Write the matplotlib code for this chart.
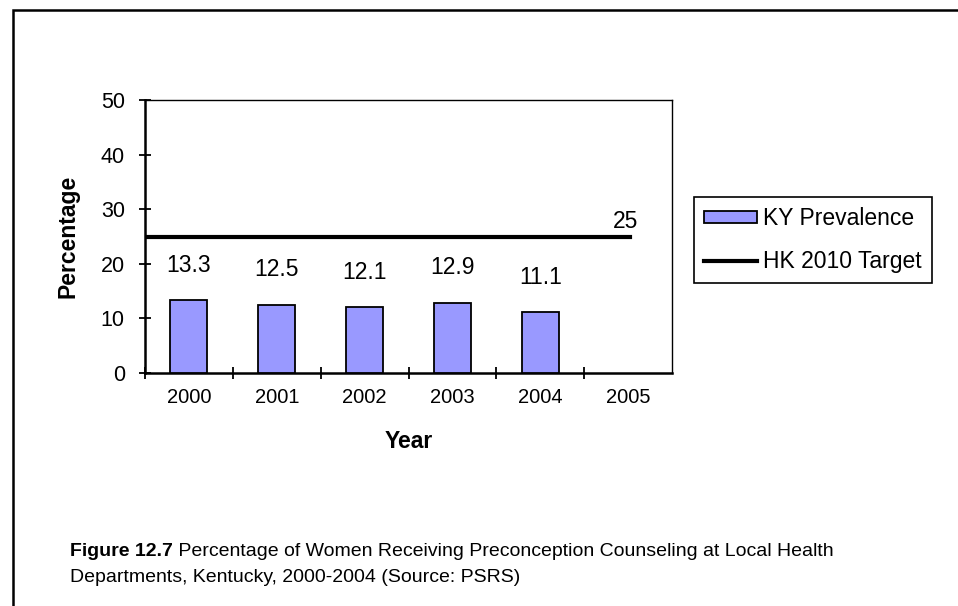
import numpy as np
import matplotlib.pyplot as plt
import matplotlib.patches as mpatches

plt.rcParams['font.family'] = ['Liberation Sans', 'DejaVu Sans']

years = ['2000', '2001', '2002', '2003', '2004', '2005']
prevalence = [13.3, 12.5, 12.1, 12.9, 11.1]
target = [25, 25, 25, 25, 25, 25]

fig = plt.figure(figsize=(9.58, 6.06), dpi=100)
ax = fig.add_axes([145 / 958, 1 - 373 / 606, 527 / 958, 273 / 606])

x = np.arange(len(prevalence))
bars = ax.bar(x, prevalence, width=0.42, color='#9999FF', edgecolor='black',
              linewidth=1.3, label='KY Prevalence', zorder=3)
for xi, v in zip(x, prevalence):
    ax.text(xi, v + 5.2, f'{v}', ha='center', va='baseline', fontsize=16.5)

ax.set_xlim(-0.5, len(years) - 0.5)
ax.set_ylim(0, 50)
ax.set_yticks(np.arange(0, 51, 10))
ax.set_xticks(np.arange(len(years)) - 0.5)
ax.set_xticklabels([])
ax.set_xticks(np.arange(len(years)), minor=True)
ax.set_xticklabels(years, minor=True, fontsize=14.5)
ax.tick_params(axis='x', which='major', direction='inout', length=9, width=1.3)
ax.tick_params(axis='x', which='minor', length=0, pad=11)
ax.tick_params(axis='y', direction='inout', length=9, width=1.3, labelsize=15.5, pad=10)

for s in ['left', 'bottom']:
    ax.spines[s].set_linewidth(1.8)
for s in ['top', 'right']:
    ax.spines[s].set_linewidth(1.0)

ax.set_ylabel('Percentage', fontsize=16.5, fontweight='bold', labelpad=15)
ax.set_xlabel('Year', fontsize=16.5, fontweight='bold', labelpad=16)

# target line on its own category scale
ax2 = ax.twiny()
ax2.set_xlim(0, 5.43)
ax2.set_ylim(0, 50)
ax2.axis('off')
tx = np.arange(len(target))
line, = ax2.plot(tx, target, color='black', linewidth=3, label='HK 2010 Target')
ax2.text(tx[-1] - 0.05, target[-1] + 1.5, f'{target[-1]}', ha='center', va='baseline', fontsize=16.5)

leg = fig.legend(handles=[bars, line], loc='upper left',
                 bbox_to_anchor=(694 / 958, 1 - 197 / 606), fontsize=16.5,
                 frameon=True, fancybox=False, edgecolor='black', framealpha=1,
                 borderaxespad=0, handlelength=2.3, handleheight=0.45,
                 handletextpad=0.25, borderpad=0.45, labelspacing=0.85)
leg.get_frame().set_linewidth(1.2)

# caption
t1 = fig.text(70 / 958, 1 - 551 / 606, 'Figure 12.7', fontsize=14,
              fontweight='bold', va='center', ha='left')
ax.annotate(' Percentage of Women Receiving Preconception Counseling at Local Health',
            xy=(1, 0.5), xycoords=t1, va='center', ha='left', fontsize=14,
            annotation_clip=False)
fig.text(70 / 958, 1 - 577 / 606, 'Departments, Kentucky, 2000-2004 (Source: PSRS)',
         fontsize=14, va='center', ha='left')

# outer frame
frame = mpatches.Rectangle((13 / 958, -0.2), 1.2, 1.2 - 10 / 606, transform=fig.transFigure,
                           fill=False, edgecolor='black', linewidth=1.8, clip_on=False)
fig.patches.append(frame)

fig.savefig('out.png', dpi=100)
